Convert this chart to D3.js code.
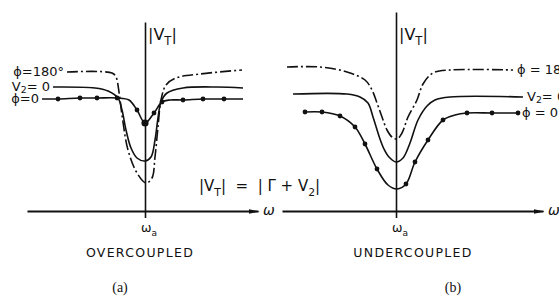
<!DOCTYPE html>
<html>
<head>
<meta charset="utf-8">
<script src="https://cdn.jsdelivr.net/npm/d3@7"></script>
<style>
  body { margin: 0; background: #fff; }
  text { fill: #111; font-family: "DejaVu Sans", "Liberation Sans", sans-serif; white-space: pre; }
  .serif { font-family: "Liberation Serif", "DejaVu Serif", serif; }
</style>
</head>
<body>
<div id="chart"></div>
<script>

// curves, as [Δω, |V_T|] in arbitrary units (ω_a at 0)
var overPhi180 = [[-7.8,13.9],[-3.3,13.8],[-2.9,13.4],[-2.6,11.9],[-2.3,9.6],[-1.7,6.1],[-0.8,3.8],[0.1,2.8],
                  [0.7,3.3],[1.0,5.4],[1.3,8.4],[1.6,11.1],[2.1,12.6],[3.1,13.3],[5.5,13.7],[9.7,14.1]];
var overV2zero = [[-9.2,12.4],[-5.0,12.3],[-3.7,12.0],[-2.7,11.3],[-2.3,10.1],[-1.9,8.1],[-1.4,6.3],[-0.8,5.3],
                  [0,5.0],[0.6,5.4],[1.0,7.1],[1.3,9.3],[1.6,10.9],[2.2,11.8],[3.8,12.3],[7.2,12.4],[9.8,12.3]];
var overPhi0   = [[-10.3,11.2],[-8.7,11.2],[-6.5,11.3],[-4.8,11.3],[-2.8,11.3],[-1.6,11.1],[-0.8,10.1],[0,8.8],
                  [0.9,9.8],[1.7,10.9],[2.5,11.1],[3.8,11.1],[5.8,11.2],[7.9,11.2],[9.8,11.2]];
var overPhi0Dots = [[-8.7,11.2],[-6.5,11.3],[-4.8,11.3],[-2.8,11.3],[-0.8,10.1],[0.9,9.8],[1.7,10.9],
                    [3.8,11.1],[5.8,11.2],[7.9,11.2]];
var overPhi0Big = [[0,8.8]];

var underPhi180 = [[-10.9,14.4],[-7.6,14.4],[-4.9,13.9],[-3.1,13.1],[-2.4,12.1],[-1.9,10.8],[-1.4,9.4],[-0.9,8.1],
                   [-0.4,7.4],[0.1,7.2],[0.6,7.8],[1.2,9.4],[2.1,11.1],[2.7,12.7],[3.7,13.8],[5.4,14.1],[11.7,14.1]];
var underV2zero = [[-10.3,11.7],[-4.9,11.7],[-3.6,11.4],[-2.8,10.8],[-2.3,9.4],[-1.6,7.2],[-1.2,6.2],[-0.7,5.4],
                   [0,4.9],[0.7,5.3],[1.4,6.8],[2.2,9.1],[3.1,10.5],[3.9,11.1],[5.4,11.4],[12.7,11.4]];
var underPhi0   = [[-9.1,9.9],[-7.4,9.9],[-5.6,9.5],[-4.1,8.4],[-3.1,6.7],[-1.9,4.2],[-0.8,2.6],[0.1,2.2],
                   [1.0,2.7],[1.9,4.9],[3.2,7.1],[4.7,9.1],[5.9,9.6],[7.1,9.8],[9.6,9.8],[12.2,9.8]];
var underPhi0Dots = [[-9.1,9.9],[-7.4,9.9],[-5.6,9.5],[-4.1,8.4],[-3.1,6.7],[-1.9,4.2],[1.0,2.7],[1.9,4.9],
                     [3.2,7.1],[4.7,9.1],[7.1,9.8],[9.6,9.8],[12.2,9.8]];

// label pieces: [text, isSubscript]
var labelsOver  = [[["ϕ=180°", false]], [["V", false], ["2", true], ["= 0", false]], [["ϕ=0", false]]];
var labelsUnder = [[["ϕ = 180°", false]], [["V", false], ["2", true], ["= 0", false]], [["ϕ = 0", false]]];

var width = 559, height = 296;

var svg = d3.select("#chart").append("svg")
    .attr("width", width)
    .attr("height", height);

svg.append("defs").append("marker")
    .attr("id", "arrow")
    .attr("markerUnits", "userSpaceOnUse")
    .attr("viewBox", "0 -3 11 6")
    .attr("refX", 10)
    .attr("markerWidth", 11)
    .attr("markerHeight", 6)
    .attr("orient", "auto")
  .append("path")
    .attr("d", "M0,-2.4L11,0L0,2.4Z")
    .attr("fill", "#111");

// text with subscripts, parts = [[string, isSub], ...]
function subText(g, x, y, parts, size, anchor, shift) {
  shift = shift || 0.3;
  var t = g.append("text")
      .attr("x", x).attr("y", y)
      .style("font-size", size + "px")
      .style("text-anchor", anchor || "start");
  var down = false;
  parts.forEach(function(p) {
    var dy = 0;
    if (p[1] && !down) { dy = size * shift; down = true; }
    else if (!p[1] && down) { dy = -size * shift; down = false; }
    t.append("tspan")
      .attr("dy", dy)
      .style("font-size", (p[1] ? size * 0.72 : size) + "px")
      .text(p[0]);
  });
  return t;
}

function drawPanel(opt) {
  var x = d3.scaleLinear().domain(opt.xDomain).range(opt.xRange);
  var y = d3.scaleLinear().domain(opt.yDomain).range([211, opt.yTop]);

  var g = svg.append("g");

  var line = d3.line()
      .x(function(d) { return x(d[0]); })
      .y(function(d) { return y(d[1]); })
      .curve(d3.curveCatmullRom.alpha(0.5));

  // horizontal axis with the ω_a tick
  var xAxis = d3.axisBottom(x).tickValues([0]).tickSize(7).tickSizeOuter(0).tickFormat("");
  var gx = g.append("g")
      .attr("transform", "translate(0," + y(0) + ")")
      .call(xAxis);
  gx.select(".domain").attr("stroke", "#111").attr("stroke-width", 1.8).attr("marker-end", "url(#arrow)");
  gx.selectAll(".tick line").attr("stroke", "#111").attr("stroke-width", 1.6);

  // vertical axis
  var yAxis = d3.axisLeft(y).tickValues([]).tickSizeOuter(0);
  var gy = g.append("g")
      .attr("transform", "translate(" + x(0) + ",0)")
      .call(yAxis);
  gy.select(".domain").attr("stroke", "#111").attr("stroke-width", 1.6);

  var curves = [
    {data: opt.phi180, dash: "11,3,2,3"},
    {data: opt.v2zero, dash: null},
    {data: opt.phi0, dash: null}
  ];
  g.selectAll(".curve")
      .data(curves)
    .enter().append("path")
      .attr("class", "curve")
      .attr("d", function(d) { return line(d.data); })
      .attr("fill", "none")
      .attr("stroke", "#111")
      .attr("stroke-width", 1.6)
      .attr("stroke-dasharray", function(d) { return d.dash; });

  g.selectAll(".dot")
      .data(opt.dots)
    .enter().append("circle")
      .attr("class", "dot")
      .attr("r", 2.4)
      .attr("cx", function(d) { return x(d[0]); })
      .attr("cy", function(d) { return y(d[1]); })
      .attr("fill", "#111");

  g.selectAll(".bigdot")
      .data(opt.bigDots)
    .enter().append("circle")
      .attr("class", "bigdot")
      .attr("r", 3.6)
      .attr("cx", function(d) { return x(d[0]); })
      .attr("cy", function(d) { return y(d[1]); })
      .attr("fill", "#111");

  // curve labels, set against the start (a) or the end (b) of each curve
  curves.forEach(function(c, i) {
    var p = opt.labelAtEnd ? c.data[c.data.length - 1] : c.data[0];
    var lx = x(p[0]) + (opt.labelAtEnd ? 4 : -3);
    var ly = y(p[1]) + 4;
    subText(g, lx, ly, opt.labels[i], 13, opt.labelAtEnd ? "start" : "end", 0.15);
  });

  // |V_T| label on the vertical axis
  subText(g, x(0) + 3, 40, [["|V", false], ["T", true], ["|", false]], 16);

  // ω at the arrow, ω_a under the tick
  g.append("text")
      .attr("x", opt.xRange[1] + 5).attr("y", y(0) + 4)
      .style("font-size", "14px").style("font-style", "italic")
      .text("ω");
  subText(g, x(0) - 4, 232, [["ω", false], ["a", true]], 12.5);

  g.append("text")
      .attr("x", opt.titleX).attr("y", 257)
      .style("font-size", "12.5px").style("letter-spacing", "1.3px")
      .style("text-anchor", "middle")
      .text(opt.title);

  g.append("text")
      .attr("class", "serif")
      .attr("x", opt.tagX).attr("y", 292)
      .style("font-size", "14px")
      .style("text-anchor", "middle")
      .text(opt.tag);
}

drawPanel({
  xDomain: [-11.8, 11.3], xRange: [27, 258], yDomain: [0, 18.9], yTop: 22,
  phi180: overPhi180, v2zero: overV2zero, phi0: overPhi0,
  dots: overPhi0Dots, bigDots: overPhi0Big,
  labels: labelsOver, labelAtEnd: false,
  title: "OVERCOUPLED", titleX: 140, tag: "(a)", tagX: 120
});

drawPanel({
  xDomain: [-11.4, 14.7], xRange: [282, 543], yDomain: [0, 19.9], yTop: 12,
  phi180: underPhi180, v2zero: underV2zero, phi0: underPhi0,
  dots: underPhi0Dots, bigDots: [],
  labels: labelsUnder, labelAtEnd: true,
  title: "UNDERCOUPLED", titleX: 413, tag: "(b)", tagX: 453
});

// the relation between the panels
subText(svg, 199, 191, [["|V", false], ["T", true], ["|  =  | Γ + V", false], ["2", true], ["|", false]], 15);

</script>
</body>
</html>
